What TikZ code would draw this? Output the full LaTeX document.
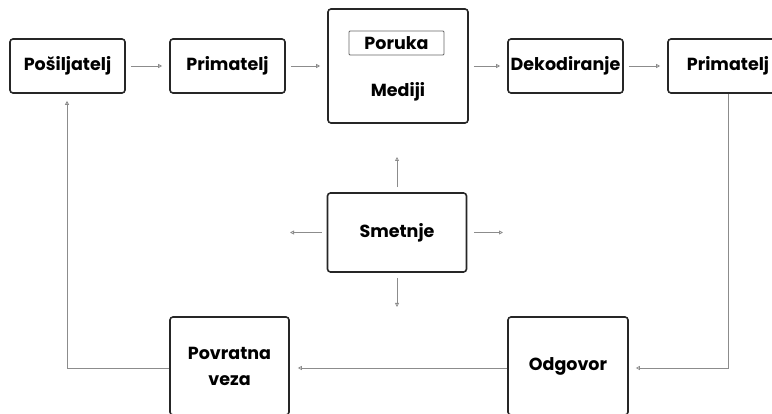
\documentclass[tikz,border=0pt]{standalone}
\usepackage{fontspec}
\setmainfont{Poppins}[BoldFont={Poppins Bold}]
\usetikzlibrary{positioning,arrows.meta}

\newcommand{\blokfont}{\bfseries\fontsize{17.5}{20}\selectfont}
\tikzset{
	blok/.style={draw=black!85,line width=1.6pt,rounded corners=3pt,minimum width=115pt,minimum height=54pt,font=\blokfont,align=center,inner sep=0pt},
	veza/.style={draw=black!45,line width=0.8pt,-{Triangle[open,length=4pt,width=4pt]}},
	jaz/.style={shorten <=5pt,shorten >=7pt}
}

\begin{document}
\begin{tikzpicture}[x=1pt,y=-1pt]
	\useasboundingbox (0,0) rectangle (772,414);
	\clip (0,0) rectangle (772,414);
	% gornji red
	\node[blok] (posilj) at (67.5,66) {Pošiljatelj};
	\node[blok] (prim) at (227.5,66) {Primatelj};
	\node[blok,minimum width=140pt,minimum height=114pt] (medij) at (398,66) {};
	\node[draw=black!60,line width=0.8pt,rounded corners=1pt,minimum width=95pt,minimum height=24pt,inner sep=0pt,font=\blokfont] (poruka) at (396.5,43) {Poruka};
	\node[font=\blokfont] (medtxt) at (398,92) {Mediji};
	\node[blok] (dekod) at (565.5,66) {Dekodiranje};
	\node[blok,minimum width=120pt] (primb) at (728,66) {Primatelj};
	% smetnje
	\node[blok,minimum width=139pt,minimum height=79pt] (smet) at (397,232.5) {Smetnje};
	\coordinate (smetG) at (397,157);
	\coordinate (smetD) at (397,307);
	\coordinate (smetL) at (290,232.5);
	\coordinate (smetR) at (503,232.5);
	% donji red
	\node[blok,minimum width=120pt,minimum height=98pt] (odgov) at (568,366) {Odgovor};
	\node[blok,minimum width=119pt,minimum height=98pt,font=\bfseries\fontsize{17.5}{26}\selectfont] (povrat) at (229.5,366) {Povratna\\veza};
	\coordinate (kutD) at (728,368);
	\coordinate (kutL) at (67,368);

	\draw[veza,jaz] (posilj) -- (prim);
	\draw[veza,jaz] (prim) -- (medij);
	\draw[veza,jaz] (medij) -- (dekod);
	\draw[veza,jaz] (dekod) -- (primb);
	\draw[veza,shorten <=5pt] (smet.north) -- (smetG);
	\draw[veza,shorten <=5pt] (smet.south) -- (smetD);
	\draw[veza,shorten <=5pt] (smet.west) -- (smetL);
	\draw[veza,shorten <=7pt] (smet.east) -- (smetR);
	\draw[veza,shorten >=7pt] (primb.south) -- (kutD) -- (odgov.east |- kutD);
	\draw[veza,shorten >=8pt] (odgov.west |- kutD) -- (povrat.east |- kutD);
	\draw[veza,shorten >=7pt] (povrat.west |- kutL) -- (kutL) -- (posilj.south -| kutL);
\end{tikzpicture}
\end{document}
